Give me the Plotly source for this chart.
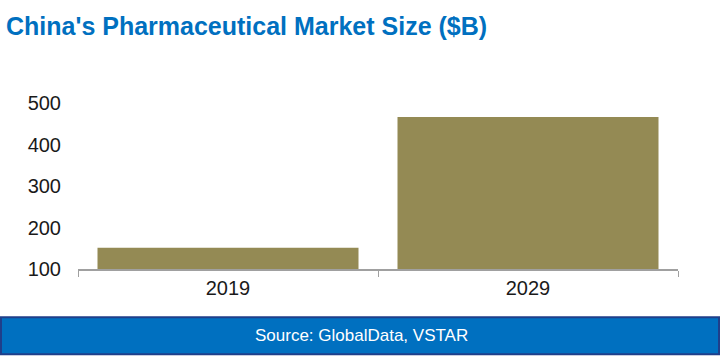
import plotly.graph_objects as go

years = ["2019", "2029"]
market_size = [151, 466]
ytick_vals = [100, 200, 300, 400, 500]

W, H = 720, 359
L, R, T, B = 78, 42, 103, 89.5
ph = H - T - B
pw = W - L - R

fig = go.Figure()
fig.add_trace(go.Bar(
    x=years, y=market_size, base=0,
    marker=dict(color="#948A54", line=dict(width=0)),
    width=0.87,
    hoverinfo="skip",
))

def py(pix):
    return (H - B - pix) / ph

def px(pix):
    return (pix - L) / pw

fig.update_layout(
    width=W, height=H,
    margin=dict(l=L, r=R, t=T, b=B, autoexpand=False),
    paper_bgcolor="white", plot_bgcolor="white",
    showlegend=False,
    title=dict(
        text="<b>China's Pharmaceutical Market Size ($B)</b>",
        font=dict(family="Liberation Sans Narrow, Arial Narrow, Liberation Sans, Arial", size=25, color="#0070C0"),
        xref="container", x=6 / W, xanchor="left",
        yref="container", y=1 - 26 / H, yanchor="middle",
    ),
    xaxis=dict(
        automargin=False,
        showline=True, linecolor="#A0A0A0", linewidth=1.5,
        ticks="outside", tickson="boundaries", ticklen=6, tickcolor="#A0A0A0",
        tickfont=dict(family="Liberation Sans, Arial", size=20, color="#1a1a1a"),
        showgrid=False,
    ),
    yaxis=dict(
        automargin=False,
        range=[100, 500], tickvals=ytick_vals,
        showline=False, showgrid=False, zeroline=False,
        tickfont=dict(family="Liberation Sans, Arial", size=20, color="#1a1a1a"),
        ticks="", ticklabelstandoff=16,
    ),
    shapes=[dict(
        type="rect", xref="paper", yref="paper",
        x0=px(1), x1=px(719), y0=py(318), y1=py(355),
        fillcolor="#0070C0", line=dict(color="#1F3F8A", width=2), layer="above",
    )],
    annotations=[dict(
        text="Source: GlobalData, VSTAR", xref="paper", yref="paper",
        x=px(361), y=py(336.5), xanchor="center", yanchor="middle",
        showarrow=False,
        font=dict(family="Liberation Sans, Arial", size=17, color="white"),
    )],
)

fig.write_html("out.html", config={"displayModeBar": False},
               post_script="document.body.style.margin='0';")
